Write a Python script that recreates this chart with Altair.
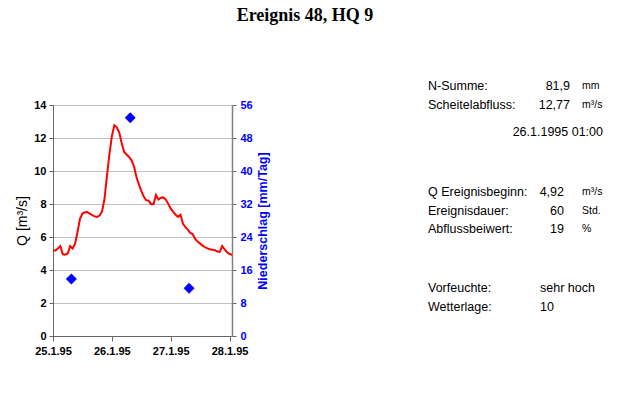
import altair as alt
import pandas as pd

# ---- data ----
q_hours = list(range(0, 74))
q_values = [5.18, 5.18, 5.3, 5.45, 4.95, 4.93, 5.0, 5.45, 5.3, 5.6,
            6.3, 7.1, 7.42, 7.5, 7.52, 7.42, 7.33, 7.25, 7.22, 7.3,
            7.55, 8.3, 9.7, 11.0, 12.1, 12.77, 12.65, 12.35, 11.7, 11.15,
            11.0, 10.85, 10.65, 10.3, 9.65, 9.2, 8.8, 8.45, 8.23, 8.2,
            7.99, 7.99, 8.55, 8.27, 8.38, 8.4, 8.27, 8.02, 7.72, 7.52,
            7.35, 7.22, 7.35, 6.8, 6.6, 6.45, 6.25, 6.17, 5.88, 5.72,
            5.6, 5.48, 5.38, 5.31, 5.26, 5.23, 5.2, 5.12, 5.1, 5.45,
            5.25, 5.08, 4.97, 4.92]
p_hours = [7.5, 31.5, 55.5]
p_values = [13.8, 52.9, 11.6]
x_tick_hours = [0, 24, 48, 72]
x_tick_labels = ["25.1.95", "26.1.95", "27.1.95", "28.1.95"]

title_text = "Ereignis 48, HQ 9"
info_labels = ["N-Summe:", "Scheitelabfluss:", "Q Ereignisbeginn:", "Ereignisdauer:",
               "Abflussbeiwert:", "Vorfeuchte:", "Wetterlage:"]
info_values = ["81,9", "12,77", "4,92", "60", "19", "sehr hoch", "10"]
info_units = ["mm", "m³/s", "m³/s", "Std.", "%", "", ""]
peak_time = "26.1.1995 01:00"

# ---- layout (pixels relative to plot origin) ----
OX, OY = 53, 105
W, H = 179, 231
row_y = [86, 105, 192, 211, 229, 288, 307]
value_x_right = [570, 570, 564, 564, 564, None, None]

FONT = "Liberation Sans"

qdf = pd.DataFrame({"h": q_hours, "q": q_values})
pdf = pd.DataFrame({"h": p_hours, "p": p_values})

label_expr = "{" + ",".join(f"'{h}':'{l}'" for h, l in zip(x_tick_hours, x_tick_labels)) + "}[datum.value]"

x_enc = alt.X("h:Q", scale=alt.Scale(domain=[0, 73], nice=False, zero=False),
              axis=alt.Axis(values=x_tick_hours, labelExpr=label_expr, title=None, grid=False,
                            labelFont=FONT, labelFontSize=11, labelFontWeight="bold",
                            labelColor="black", tickSize=5, tickColor="#666666",
                            domainColor="#666666", labelPadding=4,
                            labelFlush=False, labelOverlap=False, labelBound=False))

line = alt.Chart(qdf).mark_line(color="#ff0000", strokeWidth=2).encode(
    x=x_enc,
    y=alt.Y("q:Q", scale=alt.Scale(domain=[0, 14], nice=False),
            axis=alt.Axis(values=list(range(0, 15, 2)), title="Q [m³/s]", grid=True,
                          gridColor="#c0c0c0", labelFont=FONT, labelFontSize=11,
                          labelFontWeight="bold", labelColor="black",
                          titleFont=FONT, titleFontSize=14, titleFontWeight="normal",
                          titleColor="black", titlePadding=4, tickSize=4,
                          tickColor="#666666", domainColor="#666666", labelPadding=3,
                          labelFlush=False, labelOverlap=False)),
)

precip = alt.Chart(pdf).mark_point(shape="diamond", filled=True, color="#0000ff",
                                   size=120, opacity=1).encode(
    x=alt.X("h:Q"),
    y=alt.Y("p:Q", scale=alt.Scale(domain=[0, 56], nice=False),
            axis=alt.Axis(orient="right", values=list(range(0, 57, 8)),
                          title="Niederschlag [mm/Tag]", grid=False,
                          labelFont=FONT, labelFontSize=11, labelFontWeight="bold",
                          labelColor="#0000ff", titleFont=FONT, titleFontSize=12.5,
                          titleFontWeight="bold", titleColor="#0000ff", titlePadding=4,
                          titleAngle=270, titleBaseline="top",
                          tickSize=4, tickColor="#666666", domainColor="#808080",
                          domainWidth=1.5, labelPadding=4,
                          labelFlush=False, labelOverlap=False)),
)

plot = alt.layer(line, precip).resolve_scale(y="independent")

# ---- text annotations ----
title_df = pd.DataFrame({"t": [title_text], "px": [305 - OX], "py": [16 - OY]})
title_layer = alt.Chart(title_df).mark_text(font="Liberation Serif", fontSize=18,
                                            fontWeight="bold", align="center",
                                            baseline="middle", color="black").encode(
    x=alt.X("px:Q", scale=None), y=alt.Y("py:Q", scale=None), text="t:N")

lab_df = pd.DataFrame({"t": info_labels, "px": [428 - OX] * len(info_labels),
                       "py": [y - OY for y in row_y]})
lab_layer = alt.Chart(lab_df).mark_text(font=FONT, fontSize=12.5, align="left",
                                        baseline="middle", color="black").encode(
    x=alt.X("px:Q", scale=None), y=alt.Y("py:Q", scale=None), text="t:N")

num_rows = [i for i, xr in enumerate(value_x_right) if xr is not None]
val_df = pd.DataFrame({"t": [info_values[i] for i in num_rows],
                       "px": [value_x_right[i] - OX for i in num_rows],
                       "py": [row_y[i] - OY for i in num_rows]})
val_layer = alt.Chart(val_df).mark_text(font=FONT, fontSize=12.5, align="right",
                                        baseline="middle", color="black").encode(
    x=alt.X("px:Q", scale=None), y=alt.Y("py:Q", scale=None), text="t:N")

txt_rows = [i for i, xr in enumerate(value_x_right) if xr is None]
val2_df = pd.DataFrame({"t": [info_values[i] for i in txt_rows],
                        "px": [540 - OX] * len(txt_rows),
                        "py": [row_y[i] - OY for i in txt_rows]})
val2_layer = alt.Chart(val2_df).mark_text(font=FONT, fontSize=12.5, align="left",
                                          baseline="middle", color="black").encode(
    x=alt.X("px:Q", scale=None), y=alt.Y("py:Q", scale=None), text="t:N")

unit_rows = [i for i, u in enumerate(info_units) if u]
unit_df = pd.DataFrame({"t": [info_units[i] for i in unit_rows],
                        "px": [582 - OX] * len(unit_rows),
                        "py": [row_y[i] - OY for i in unit_rows]})
unit_layer = alt.Chart(unit_df).mark_text(font=FONT, fontSize=10.5, align="left",
                                          baseline="middle", color="black").encode(
    x=alt.X("px:Q", scale=None), y=alt.Y("py:Q", scale=None), text="t:N")

peak_df = pd.DataFrame({"t": [peak_time], "px": [603 - OX], "py": [132 - OY]})
peak_layer = alt.Chart(peak_df).mark_text(font=FONT, fontSize=12.5, align="right",
                                          baseline="middle", color="black").encode(
    x=alt.X("px:Q", scale=None), y=alt.Y("py:Q", scale=None), text="t:N")

chart = alt.layer(plot, title_layer, lab_layer, val_layer, val2_layer, unit_layer,
                  peak_layer).properties(
    width=W, height=H,
    autosize=alt.AutoSizeParams(type="none"),
    padding={"left": OX, "top": OY, "right": 643 - OX - W, "bottom": 413 - OY - H},
    background="white",
).configure_view(stroke="#b0b0b0", strokeWidth=1)

chart.save("out.html", embed_options={"renderer": "svg", "actions": False})
